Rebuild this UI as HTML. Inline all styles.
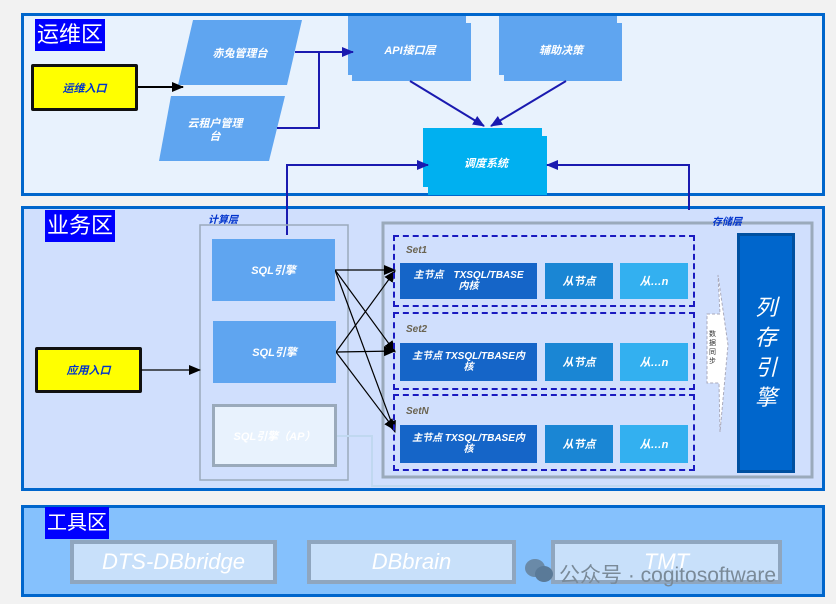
<!DOCTYPE html>
<html><head><meta charset="utf-8"><style>
body{margin:0;background:#f2f2f2;width:836px;height:604px;overflow:hidden;position:relative;font-family:"Liberation Sans","Noto Sans CJK SC",sans-serif}
div{position:absolute;box-sizing:border-box}
.c{display:flex;align-items:center;justify-content:center;text-align:center;color:#fff;font-weight:bold;font-size:11px;font-style:italic}
.zl{background:#0000ff;color:#fff;font-size:22px;line-height:32px;padding:0 2px}
.y{background:#ffff00;border:3px solid #111;border-radius:2px;color:#0033cc;font-size:11px}
.m{background:#1565c8}.s{background:#1a86d4}.n{background:#33b0f0}
.set{border:2px dashed #1a1ac0}
.st{color:#6a6350;font-size:10px;font-weight:bold;font-style:italic}
.tool{background:#c8e0fa;border:4px solid #8fa6bf;color:#fff;font-size:22px;font-style:italic;font-weight:normal}
</style></head><body>
<div style="left:21px;top:13px;width:804px;height:183px;background:#e8f2fd;border:3px solid #0066cc"></div>
<div style="left:21px;top:206px;width:804px;height:285px;background:#d0dffd;border:3px solid #0066cc"></div>
<div style="left:21px;top:505px;width:804px;height:92px;background:#85c1fd;border:3px solid #0066cc"></div>

<div class="zl" style="left:35px;top:19px">运维区</div>
<div class="zl" style="left:45px;top:210px">业务区</div>
<div class="zl" style="left:45px;top:507px;font-size:20px">工具区</div>

<div class="c y" style="left:31px;top:64px;width:107px;height:47px">运维入口</div>
<div class="c y" style="left:35px;top:347px;width:107px;height:46px">应用入口</div>

<svg style="position:absolute;left:0;top:0" width="836" height="604">
<defs>
<marker id="b" markerWidth="12" markerHeight="10" refX="11" refY="5" orient="auto" markerUnits="userSpaceOnUse"><path d="M0,0L12,5L0,10z" fill="#000"/></marker>
<marker id="u" markerWidth="12" markerHeight="10" refX="11" refY="5" orient="auto" markerUnits="userSpaceOnUse"><path d="M0,0L12,5L0,10z" fill="#1a1ab0"/></marker>
</defs>
<polygon points="193,20 302,20 287,85 178,85" fill="#5fa5f0"/>
<polygon points="171,96 285,96 269,161 159,161" fill="#5fa5f0"/>
<rect x="348" y="16" width="118" height="59" fill="#5fa5f0"/><rect x="352" y="23" width="119" height="58" fill="#5fa5f0"/>
<rect x="499" y="16" width="118" height="59" fill="#5fa5f0"/><rect x="504" y="23" width="118" height="58" fill="#5fa5f0"/>
<rect x="423" y="128" width="119" height="59" fill="#00b0f0"/><rect x="428" y="136" width="119" height="59" fill="#00b0f0"/>
<g stroke="#1a1ab0" stroke-width="2" fill="none">
<line x1="138" y1="87" x2="183" y2="87" stroke="#000" marker-end="url(#b)"/>
<polyline points="295,52 353,52" marker-end="url(#u)"/>
<polyline points="277,128 319,128 319,52"/>
<line x1="410" y1="81" x2="484" y2="126" marker-end="url(#u)"/>
<line x1="566" y1="81" x2="491" y2="126" marker-end="url(#u)"/>
<polyline points="287,235 287,165 428,165" marker-end="url(#u)"/>
<polyline points="689,210 689,165 547,165" marker-end="url(#u)"/>
</g>
<rect x="200" y="225" width="148" height="255" fill="none" stroke="#9aaabb" stroke-width="1.5"/>
<rect x="383" y="223" width="429" height="254" fill="none" stroke="#9aaabb" stroke-width="3"/>
<polyline points="337,436 372,436 372,486 770,486" fill="none" stroke="#c0d8f0" stroke-width="2"/>
<g stroke="#000" stroke-width="1.2" marker-end="url(#b)">
<line x1="141" y1="370" x2="200" y2="370"/>
<line x1="335" y1="270" x2="395" y2="270"/>
<line x1="335" y1="270" x2="395" y2="352"/>
<line x1="335" y1="270" x2="395" y2="432"/>
<line x1="336" y1="352" x2="395" y2="271"/>
<line x1="336" y1="352" x2="395" y2="351"/>
<line x1="336" y1="352" x2="395" y2="430"/>
</g>
<polygon points="707,314 720,314 718,275 728,345 720,432 719,383 707,383" fill="#fff" stroke="#aab" stroke-dasharray="3,2"/>
</svg>

<div class="c" style="left:190px;top:40px;width:100px;height:25px">赤兔管理台</div>
<div class="c" style="left:175px;top:116px;width:80px;height:30px;line-height:13px">云租户管理<br>台</div>
<div class="c" style="left:350px;top:20px;width:120px;height:60px">API接口层</div>
<div class="c" style="left:501px;top:20px;width:120px;height:60px">辅助决策</div>
<div class="c" style="left:425px;top:132px;width:122px;height:62px">调度系统</div>

<div style="left:208px;top:211px;color:#0033cc;font-size:10px;font-weight:bold;font-style:italic">计算层</div>
<div style="left:712px;top:213px;color:#0033cc;font-size:10px;font-weight:bold;font-style:italic">存储层</div>
<div class="c" style="left:212px;top:239px;width:123px;height:62px;background:#5fa5f0">SQL引擎</div>
<div class="c" style="left:213px;top:321px;width:123px;height:62px;background:#5fa5f0">SQL引擎</div>
<div class="c" style="left:212px;top:404px;width:125px;height:63px;background:#e8f2fd;border:3px solid #9aaabb;color:#fff">SQL引擎（AP）</div>

<div class="set" style="left:393px;top:235px;width:302px;height:72px"></div>
<div class="set" style="left:393px;top:312px;width:302px;height:78px"></div>
<div class="set" style="left:393px;top:394px;width:302px;height:77px"></div>
<div class="st" style="left:406px;top:245px">Set1</div>
<div class="st" style="left:406px;top:324px">Set2</div>
<div class="st" style="left:406px;top:406px">SetN</div>
<div class="c m" style="left:400px;top:263px;width:137px;height:36px;font-size:10px;line-height:11px">主节点　TXSQL/TBASE<br>内核</div>
<div class="c s" style="left:545px;top:263px;width:68px;height:36px">从节点</div>
<div class="c n" style="left:620px;top:263px;width:68px;height:36px">从…n</div>
<div class="c m" style="left:400px;top:343px;width:137px;height:38px;font-size:10px;line-height:11px">主节点 TXSQL/TBASE内<br>核</div>
<div class="c s" style="left:545px;top:343px;width:68px;height:38px">从节点</div>
<div class="c n" style="left:620px;top:343px;width:68px;height:38px">从…n</div>
<div class="c m" style="left:400px;top:425px;width:137px;height:38px;font-size:10px;line-height:11px">主节点 TXSQL/TBASE内<br>核</div>
<div class="c s" style="left:545px;top:425px;width:68px;height:38px">从节点</div>
<div class="c n" style="left:620px;top:425px;width:68px;height:38px">从…n</div>
<div style="left:709px;top:330px;width:12px;font-size:7px;color:#333;line-height:9px">数据同步</div>
<div class="c" style="left:737px;top:233px;width:58px;height:240px;background:#0066cc;border:3px solid #0050a0;font-size:22px;font-weight:normal;line-height:30px">列<br>存<br>引<br>擎</div>

<div class="c tool" style="left:70px;top:540px;width:207px;height:44px">DTS-DBbridge</div>
<div class="c tool" style="left:307px;top:540px;width:209px;height:44px">DBbrain</div>
<div class="c tool" style="left:551px;top:540px;width:231px;height:44px">TMT</div>
<svg style="position:absolute;left:523px;top:557px" width="32" height="28"><ellipse cx="12" cy="11" rx="10" ry="9" fill="#6a8aa8"/><ellipse cx="21" cy="17" rx="9" ry="8" fill="#5a7a98"/></svg>
<div style="left:559px;top:559px;color:#7a8a98;font-size:21px;white-space:nowrap">公众号 · cogitosoftware</div>
</body></html>
